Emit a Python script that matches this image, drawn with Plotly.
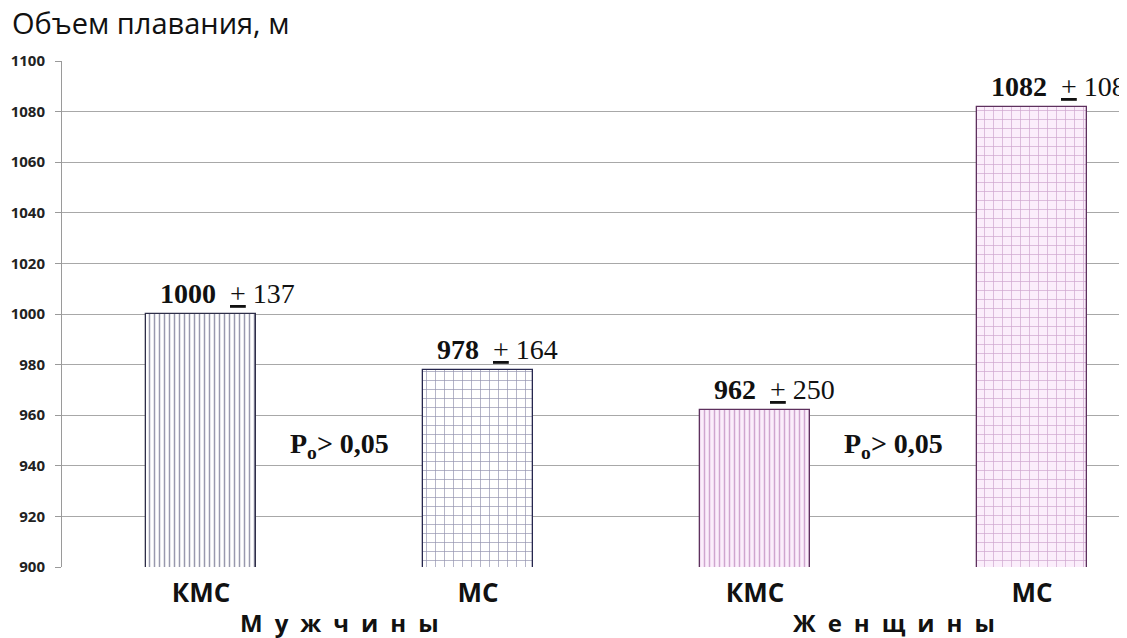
import plotly.graph_objects as go

categories = ["КМС", "МС", "КМС", "МС"]
groups = ["М у ж ч и н ы", "Ж е н щ и н ы"]
means = [1000, 978, 962, 1082]
sds = [137, 164, 250, 108]
p_labels = ["P<sub>o</sub>> 0,05", "P<sub>o</sub>> 0,05"]
y_ticks = [900, 920, 940, 960, 980, 1000, 1020, 1040, 1060, 1080, 1100]

xs = list(range(len(means)))
bar_w = 0.4

fills = [
    dict(shape="|", bgcolor="white", fgcolor="#34345e", size=5, solidity=0.3),
    dict(shape="+", bgcolor="white", fgcolor="#2a2a60", size=9, solidity=0.15),
    dict(shape="|", bgcolor="#fbeefb", fgcolor="#a45ea4", size=5, solidity=0.3),
    dict(shape="+", bgcolor="#fbeefb", fgcolor="#a45ea4", size=9, solidity=0.15),
]
outlines = ["#2e2e48", "#26264e", "#5e305e", "#5e305e"]

# page body has an 8px margin; compensate so the plot sits where the reference has it
OFF = 8
W, H = 1127 - OFF, 638 - OFF
ML, MT, MB, MR = 62 - OFF, 61 - OFF, 71, 0
PW, PH = W - ML - MR, H - MT - MB

fig = go.Figure()
for i in xs:
    fig.add_trace(go.Bar(
        x=[i], y=[means[i]], width=bar_w, base=0,
        marker=dict(color=fills[i]["bgcolor"], pattern=dict(
            shape=fills[i]["shape"], bgcolor=fills[i]["bgcolor"],
            fgcolor=fills[i]["fgcolor"], size=fills[i]["size"],
            solidity=fills[i]["solidity"], fillmode="overlay"),
            line=dict(color=outlines[i], width=1.3)),
        showlegend=False, hoverinfo="skip"))

annotations = []
for i in xs:
    annotations.append(dict(
        x=i - bar_w / 2, y=means[i], xref="x", yref="y",
        text=f"<b>{means[i]}</b>  <u>+</u> {sds[i]}",
        showarrow=False, xanchor="left", yanchor="bottom", xshift=12, yshift=3,
        font=dict(family="Liberation Serif", size=28, color="#111")))

for k, lab in enumerate(p_labels):
    annotations.append(dict(
        x=2 * k + 0.5, y=948, xref="x", yref="y",
        text=f"<b>{lab}</b>", showarrow=False, xanchor="center", yanchor="middle",
        font=dict(family="Liberation Serif", size=28, color="#111")))

for k, g in enumerate(groups):
    spaced = "\u2002".join(g.split(" "))
    annotations.append(dict(
        x=2 * k + 0.5, y=0, xref="x", yref="paper",
        text=f"<b>{spaced}</b>", showarrow=False, xanchor="center", yanchor="middle",
        yshift=-55, font=dict(family="Open Sans", size=24, color="#111")))

annotations.append(dict(
    x=(10 - OFF - ML) / PW, y=1 + (MT - (22 - OFF)) / PH, xref="paper", yref="paper",
    text="Объем плавания, м", showarrow=False, xanchor="left", yanchor="middle",
    font=dict(family="Open Sans", size=29, color="#111")))

fig.update_layout(
    width=W, height=H,
    margin=dict(l=ML, r=MR, t=MT, b=MB, autoexpand=False),
    paper_bgcolor="white", plot_bgcolor="white",
    bargap=0,
    annotations=annotations,
    xaxis=dict(range=[-0.502, 3.343], tickvals=xs,
               ticktext=[f"<b>{c}</b>" for c in categories],
               tickfont=dict(family="Open Sans", size=26, color="#111"),
               showgrid=False, zeroline=False, showline=False, ticks="",
               ticklabelstandoff=8, automargin=False),
    yaxis=dict(range=[900, 1100], tickvals=y_ticks,
               ticktext=[f"<b>{v}</b>" for v in y_ticks],
               tickfont=dict(family="Open Sans", size=15, color="#222"),
               showgrid=True, gridcolor="#a8a8a8", gridwidth=1,
               showline=True, linecolor="#9a9a9a", linewidth=1,
               ticks="outside", ticklen=6, tickcolor="#9a9a9a",
               ticklabelstandoff=7, zeroline=False, automargin=False),
)

fig.write_html("out.html")
